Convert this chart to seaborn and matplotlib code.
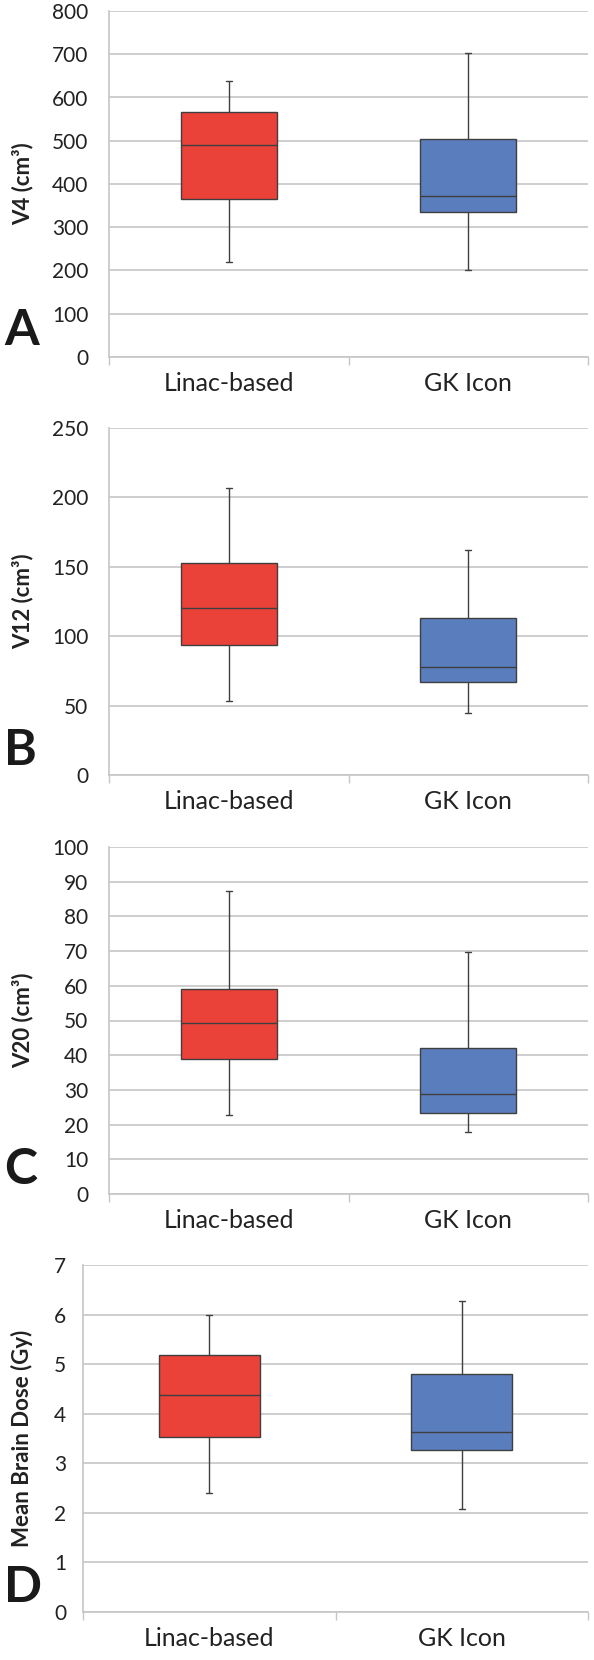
import numpy as np
import pandas as pd
import matplotlib
matplotlib.use("Agg")
import matplotlib.pyplot as plt
import seaborn as sns

# five-number summaries (min, q1, median, q3, max)
groups = ["Linac-based", "GK Icon"]
v4_linac = [220, 365, 490, 567, 638]
v4_gk = [200, 335, 372, 503, 702]
v12_linac = [53, 94, 120, 153, 207]
v12_gk = [45, 67, 78, 113, 162]
v20_linac = [22.8, 38.8, 49.2, 59.2, 87.2]
v20_gk = [17.8, 23.3, 28.7, 42.0, 69.7]
dose_linac = [2.41, 3.53, 4.37, 5.18, 5.99]
dose_gk = [2.08, 3.27, 3.63, 4.81, 6.27]

ylabels = ["V4 (cm³)", "V12 (cm³)", "V20 (cm³)", "Mean Brain Dose (Gy)"]
letters = ["A", "B", "C", "D"]
ylims = [(0, 800), (0, 250), (0, 100), (0, 7)]
ysteps = [100, 50, 10, 1]

RED = "#EA4139"
BLUE = "#5A7DBE"
EDGE = "#3F3F3F"
GRID = "#C6C6C6"

sns.set_theme(style="white")
plt.rcParams["font.family"] = ["Lato", "DejaVu Sans"]

W, H = 594, 1660
fig = plt.figure(figsize=(W / 100, H / 100), dpi=100)

# axes boxes in pixels: left, right, top, bottom
boxes = [(109, 588, 11, 357), (109, 588, 428, 775),
         (109, 588, 847, 1194), (83, 588, 1265, 1612)]
letter_base = [345, 765, 1184, 1602]

series = [(v4_linac, v4_gk), (v12_linac, v12_gk),
          (v20_linac, v20_gk), (dose_linac, dose_gk)]

for i, (lin, gk) in enumerate(series):
    l, r, t, b = boxes[i]
    ax = fig.add_axes([l / W, 1 - b / H, (r - l) / W, (b - t) / H])
    df = pd.DataFrame({
        "device": [groups[0]] * len(lin) + [groups[1]] * len(gk),
        "value": lin + gk,
    })
    sns.boxplot(data=df, x="device", y="value", hue="device",
                palette=[RED, BLUE], width=0.4, whis=(0, 100),
                saturation=1, linecolor=EDGE, linewidth=1.0,
                legend=False, ax=ax, zorder=3)
    # shrink the caps to small ticks like the original
    for ln in ax.lines:
        xd = np.asarray(ln.get_xdata(), dtype=float)
        yd = np.asarray(ln.get_ydata(), dtype=float)
        if len(xd) == 2 and yd[0] == yd[1] and abs(xd[1] - xd[0]) < 0.39:
            c = xd.mean()
            ln.set_xdata([c - 0.012, c + 0.012])

    lo, hi = ylims[i]
    ax.set_ylim(lo, hi)
    ax.set_xlim(-0.5, 1.5)
    ax.set_yticks(np.arange(lo, hi + ysteps[i] / 2, ysteps[i]))
    ax.yaxis.grid(True, color=GRID, linewidth=1.2)
    ax.set_axisbelow(True)
    ax.tick_params(axis="y", length=0, pad=15 if i < 3 else 12,
                   labelsize=15, labelcolor="#222222")

    # category boundaries as major ticks, names as minor ticks
    ax.set_xticks([-0.5, 0.5, 1.5])
    ax.set_xticklabels([])
    ax.set_xticks([0, 1], minor=True)
    ax.set_xticklabels(groups, minor=True)
    ax.tick_params(axis="x", which="major", length=6, width=1,
                   color=GRID, direction="out", bottom=True)
    ax.tick_params(axis="x", which="minor", length=0, pad=11,
                   labelsize=18, labelcolor="#222222")

    for s in ["top", "right"]:
        ax.spines[s].set_visible(False)
    for s in ["left", "bottom"]:
        ax.spines[s].set_color(GRID)
        ax.spines[s].set_linewidth(1.2)

    ax.set_xlabel("")
    ax.set_ylabel(ylabels[i], fontsize=16, fontweight="bold", color="#222222")
    ax.yaxis.set_label_coords((33 - l) / (r - l), 0.5)

    fig.text(4 / W, 1 - letter_base[i] / H, letters[i], fontsize=36,
             fontweight="bold", color="#1a1a1a", va="baseline", ha="left")

fig.savefig("out.png", dpi=100)
